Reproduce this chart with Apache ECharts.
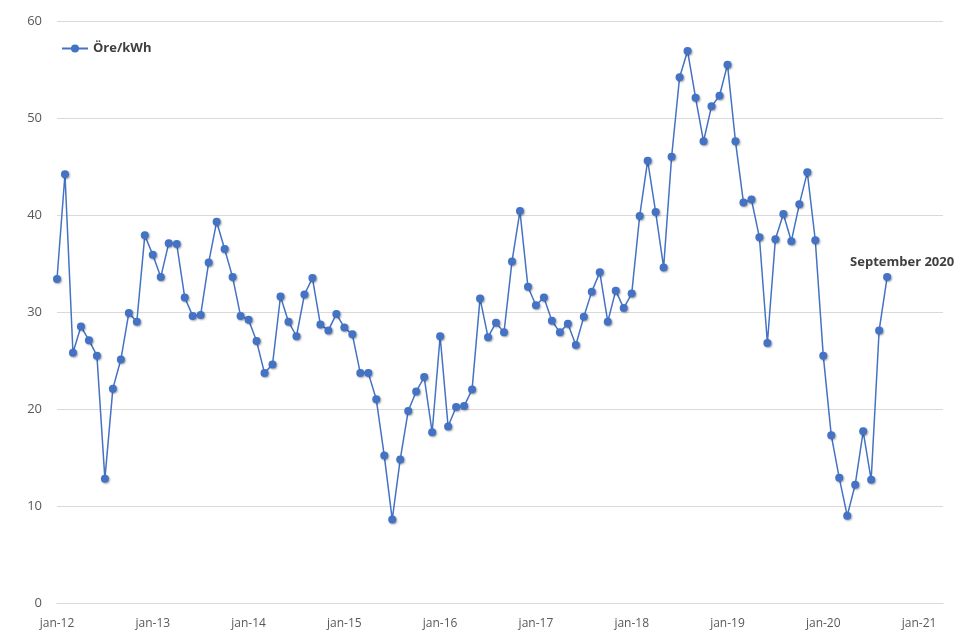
<!DOCTYPE html>
<html>
<head>
<meta charset="utf-8">
<script src="https://cdn.jsdelivr.net/npm/echarts@6/dist/echarts.min.js"></script>
<style>html,body{margin:0;padding:0;background:#fff}#c{width:975px;height:635px}</style>
</head>
<body>
<div id="c"></div>
<script>
// Monthly prices, Jan 2012 .. Sep 2020 (öre/kWh)
const values = [
  33.4, 44.2, 25.8, 28.5, 27.1, 25.5, 12.8, 22.1, 25.1, 29.9, 29.0, 37.9,
  35.9, 33.6, 37.1, 37.0, 31.5, 29.6, 29.7, 35.1, 39.3, 36.5, 33.6, 29.6,
  29.2, 27.0, 23.7, 24.6, 31.6, 29.0, 27.5, 31.8, 33.5, 28.7, 28.1, 29.8,
  28.4, 27.7, 23.7, 23.7, 21.0, 15.2, 8.6, 14.8, 19.8, 21.8, 23.3, 17.6,
  27.5, 18.2, 20.2, 20.3, 22.0, 31.4, 27.4, 28.9, 27.9, 35.2, 40.4, 32.6,
  30.7, 31.5, 29.1, 27.9, 28.8, 26.6, 29.5, 32.1, 34.1, 29.0, 32.2, 30.4,
  31.9, 39.9, 45.6, 40.3, 34.6, 46.0, 54.2, 56.9, 52.1, 47.6, 51.2, 52.3,
  55.5, 47.6, 41.3, 41.6, 37.7, 26.8, 37.5, 40.1, 37.3, 41.1, 44.4, 37.4,
  25.5, 17.3, 12.9, 9.0, 12.2, 17.7, 12.7, 28.1, 33.6
];
const seriesName = 'Öre/kWh';
const tickLabels = ['jan-12','jan-13','jan-14','jan-15','jan-16','jan-17','jan-18','jan-19','jan-20','jan-21'];
const lastLabel = 'September 2020';
const yTicks = [0, 10, 20, 30, 40, 50, 60];

const data = values.map((v, i) => {
  if (i === values.length - 1) {
    return {
      value: [i, v],
      label: {
        show: true, formatter: lastLabel, position: 'top', offset: [15, 1],
        fontFamily: 'Open Sans', fontWeight: 'bold', fontSize: 13, color: '#404040'
      }
    };
  }
  return [i, v];
});

const chart = echarts.init(document.getElementById('c'), null, {renderer: 'canvas'});
chart.setOption({
  animation: false,
  backgroundColor: '#ffffff',
  grid: {left: 57, right: 32, top: 21, bottom: 32, containLabel: false},
  legend: {
    show: true, left: 56, top: 37, itemWidth: 26, itemHeight: 10, itemGap: 4,
    data: [seriesName],
    textStyle: {fontFamily: 'Open Sans', fontWeight: 'bold', fontSize: 13, color: '#404040'}
  },
  xAxis: {
    type: 'value', min: 0, max: 111, interval: 12,
    axisLine: {show: true, lineStyle: {color: '#d9d9d9'}},
    axisTick: {show: false},
    splitLine: {show: false},
    axisLabel: {
      margin: 15, color: '#595959', fontFamily: 'Open Sans', fontSize: 12,
      showMaxLabel: false,
      formatter: v => (v % 12 === 0 ? (tickLabels[v / 12] || '') : '')
    }
  },
  yAxis: {
    type: 'value', min: yTicks[0], max: yTicks[yTicks.length - 1], interval: 10,
    axisLine: {show: false}, axisTick: {show: false},
    splitLine: {lineStyle: {color: '#d9d9d9', width: 1}},
    axisLabel: {margin: 15, color: '#595959', fontFamily: 'Open Sans', fontSize: 13}
  },
  series: [{
    name: seriesName, type: 'line', data: data,
    symbol: 'circle', symbolSize: 8, showAllSymbol: true,
    lineStyle: {color: '#4472C4', width: 1.5},
    itemStyle: {color: '#4472C4', shadowColor: 'rgba(0,0,0,0.35)', shadowBlur: 2, shadowOffsetX: 1, shadowOffsetY: 1}
  }]
});
</script>
</body>
</html>
